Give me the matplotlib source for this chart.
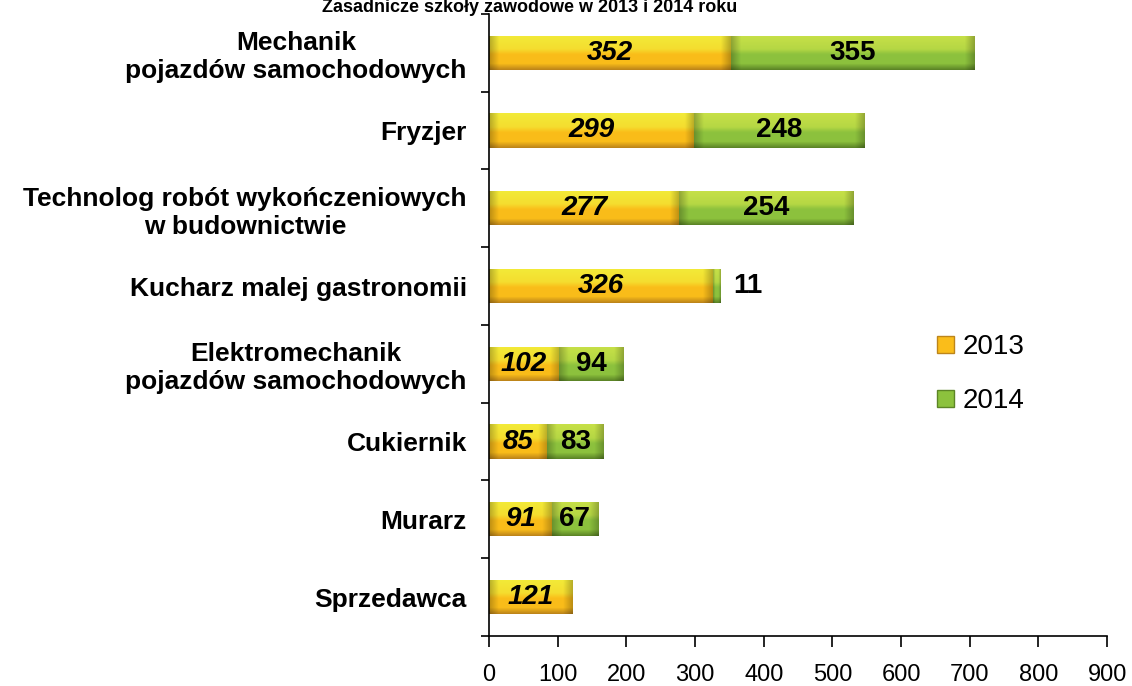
import matplotlib.pyplot as plt
import numpy as np
from matplotlib.patches import Patch

plt.rcParams['font.family'] = ['Liberation Sans', 'DejaVu Sans']

# data
categories = [
    "Mechanik\npojazdów samochodowych",
    "Fryzjer",
    "Technolog robót wykończeniowych\nw budownictwie",
    "Kucharz malej gastronomii",
    "Elektromechanik\npojazdów samochodowych",
    "Cukiernik",
    "Murarz",
    "Sprzedawca",
]
vals_2013 = [352, 299, 277, 326, 102, 85, 91, 121]
vals_2014 = [355, 248, 254, 11, 94, 83, 67, 0]
title = "Zasadnicze szkoły zawodowe w 2013 i 2014 roku"

# bevel colours: top, middle, bottom
shade_2013 = [(0.95, 0.92, 0.22), (0.98, 0.74, 0.10), (0.74, 0.52, 0.10)]
shade_2014 = [(0.78, 0.88, 0.28), (0.55, 0.76, 0.24), (0.36, 0.52, 0.15)]


def bevel_image(shades, width, edge=14):
    # vertical profile: light top band, main body, dark bottom
    n = 40
    t = np.linspace(0, 1, n)
    top, mid, bot = [np.array(c) for c in shades]
    rows = np.empty((n, 3))
    for i, v in enumerate(t):
        if v < 0.4:
            rows[i] = top + (mid - top) * (v / 0.4) * 0.3
        elif v < 0.55:
            a = top * 0.7 + mid * 0.3
            rows[i] = a + (mid - a) * ((v - 0.4) / 0.15)
        elif v < 0.82:
            rows[i] = mid
        else:
            rows[i] = mid + (bot - mid) * ((v - 0.82) / 0.18)
    ncol = 200
    x = np.linspace(0, width, ncol)
    e = min(edge, width * 0.3)
    dark = np.clip(np.minimum(x, width - x) / e, 0, 1) * 0.25 + 0.75
    img = rows[:, None, :] * dark[None, :, None]
    return np.clip(img, 0, 1)


fig = plt.figure(figsize=(11.32, 6.86), dpi=100)
ax = fig.add_axes([0.432, 0.0729, 0.546, 0.907])

y = np.arange(len(categories))
h = 0.44

bars13 = ax.barh(y, vals_2013, height=h, color='none', edgecolor='none')
bars14 = ax.barh(y, vals_2014, left=vals_2013, height=h, color='none', edgecolor='none')

for bars, shades in ((bars13, shade_2013), (bars14, shade_2014)):
    for b in bars:
        w = b.get_width()
        if w <= 0:
            continue
        x0, y0 = b.get_x(), b.get_y()
        im = ax.imshow(bevel_image(shades, w), extent=(x0, x0 + w, y0 + h, y0),
                       aspect='auto', interpolation='bilinear', zorder=2)
        im.set_clip_path(b)

ax.set_xlim(0, 900)
ax.set_ylim(len(categories) - 0.5, -0.5)

# value labels
for i, (a, b) in enumerate(zip(vals_2013, vals_2014)):
    ax.text(a / 2, i, str(a), ha='center', va='center', fontsize=20,
            fontweight='bold', fontstyle='italic', zorder=3)
    if b > 0:
        if b < 40:
            ax.text(a + b + 18, i, str(b), ha='left', va='center', fontsize=20,
                    fontweight='bold', zorder=3)
        else:
            ax.text(a + b / 2, i, str(b), ha='center', va='center', fontsize=20,
                    fontweight='bold', zorder=3)

# axes styling
ax.spines['top'].set_visible(False)
ax.spines['right'].set_visible(False)
ax.spines['left'].set_linewidth(1.2)
ax.spines['bottom'].set_linewidth(1.2)
ax.set_yticks(y)
ax.set_yticklabels(categories, fontsize=19, fontweight='bold', multialignment='center')
ax.tick_params(axis='y', which='major', length=0, pad=16)
ax.set_yticks(np.arange(-0.5, len(categories)), minor=True)
ax.tick_params(axis='y', which='minor', length=6, width=1.2, direction='out')
ax.set_xticks(np.arange(0, 901, 100))
ax.tick_params(axis='x', length=8, width=1.2, labelsize=17, pad=12)

# legend
handles = [Patch(facecolor=shade_2013[1], edgecolor=shade_2013[2]),
           Patch(facecolor=shade_2014[1], edgecolor=shade_2014[2])]
ax.legend(handles, ['2013', '2014'], loc='upper left', bbox_to_anchor=(0.685, 0.525),
          frameon=False, fontsize=20, handlelength=0.6, handleheight=0.6,
          handletextpad=0.3, labelspacing=1.0)

fig.text(0.468, 1 - 12 / 686, title, ha='center', va='baseline', fontsize=13,
         fontweight='bold')

plt.savefig('out.png', dpi=100)
plt.close()
